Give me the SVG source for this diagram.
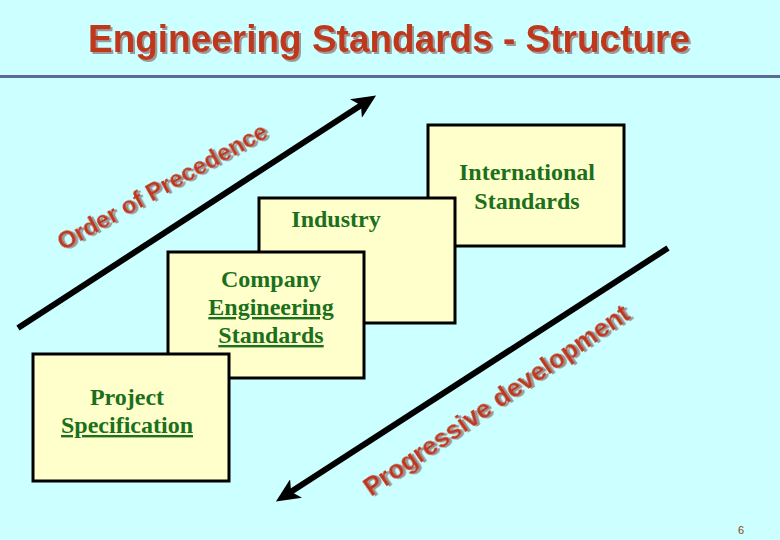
<svg xmlns="http://www.w3.org/2000/svg" width="780" height="540" viewBox="0 0 780 540">
<defs>
<style>
.box{fill:#FFFFCC;stroke:#000;stroke-width:3}
.lbl{font-family:"Liberation Serif","Times New Roman",serif;font-weight:bold;font-size:24px;fill:#1C701C;text-anchor:middle}
.u{text-decoration:underline}
.red{font-family:"Liberation Sans",Arial,sans-serif;font-weight:bold;fill:#C0381A;filter:url(#shadow)}
.conn{stroke:#000;stroke-width:6;fill:none}
</style>
<filter id="shadow" x="-5%" y="-20%" width="110%" height="140%">
<feFlood flood-color="#9A9A9A" result="c"/>
<feComposite in="c" in2="SourceAlpha" operator="in" result="s"/>
<feOffset in="s" dx="2" dy="2" result="o"/>
<feMerge><feMergeNode in="o"/><feMergeNode in="SourceGraphic"/></feMerge>
</filter>
<marker id="ah" markerWidth="26" markerHeight="22" refX="12" refY="11" orient="auto" markerUnits="userSpaceOnUse">
<path d="M0,0 L24,11 L0,22 L6,11 Z" fill="#000"/>
</marker>
</defs>
<rect width="780" height="540" fill="#CCFFFF"/>
<g id="title">
<text x="389" y="52" class="red" font-size="38" text-anchor="middle" textLength="602" lengthAdjust="spacingAndGlyphs">Engineering Standards - Structure</text>
<line x1="0" y1="76.5" x2="780" y2="76.5" stroke="#5A6A94" stroke-width="3"/>
</g>
<g id="connectors">
<line class="conn" x1="18" y1="328" x2="366" y2="102" marker-end="url(#ah)"/>
<line class="conn" x1="668" y1="248" x2="286" y2="495" marker-end="url(#ah)"/>
</g>
<g id="arrow-labels">
<text class="red" font-size="24" transform="translate(63,251) rotate(-29)">Order of Precedence</text>
<text class="red" font-size="26" transform="translate(371,497) rotate(-34.5)">Progressive development</text>
</g>
<g id="international">
<rect class="box" x="428" y="125" width="196" height="121"/>
<text class="lbl" x="527" y="180">International</text>
<text class="lbl" x="527" y="209">Standards</text>
</g>
<g id="industry">
<rect class="box" x="259" y="198" width="196" height="125"/>
<text class="lbl" x="336" y="227">Industry</text>
</g>
<g id="company">
<rect class="box" x="168" y="252" width="196" height="126"/>
<text class="lbl" x="271" y="287">Company</text>
<text class="lbl u" x="271" y="315">Engineering</text>
<text class="lbl u" x="271" y="343">Standards</text>
</g>
<g id="project">
<rect class="box" x="33" y="354" width="196" height="127"/>
<text class="lbl" x="127" y="405">Project</text>
<text class="lbl u" x="127" y="433">Specification</text>
</g>
<text x="741" y="534" font-family="Liberation Sans,Arial,sans-serif" font-size="11" fill="#8B4513" text-anchor="middle">6</text>
</svg>
